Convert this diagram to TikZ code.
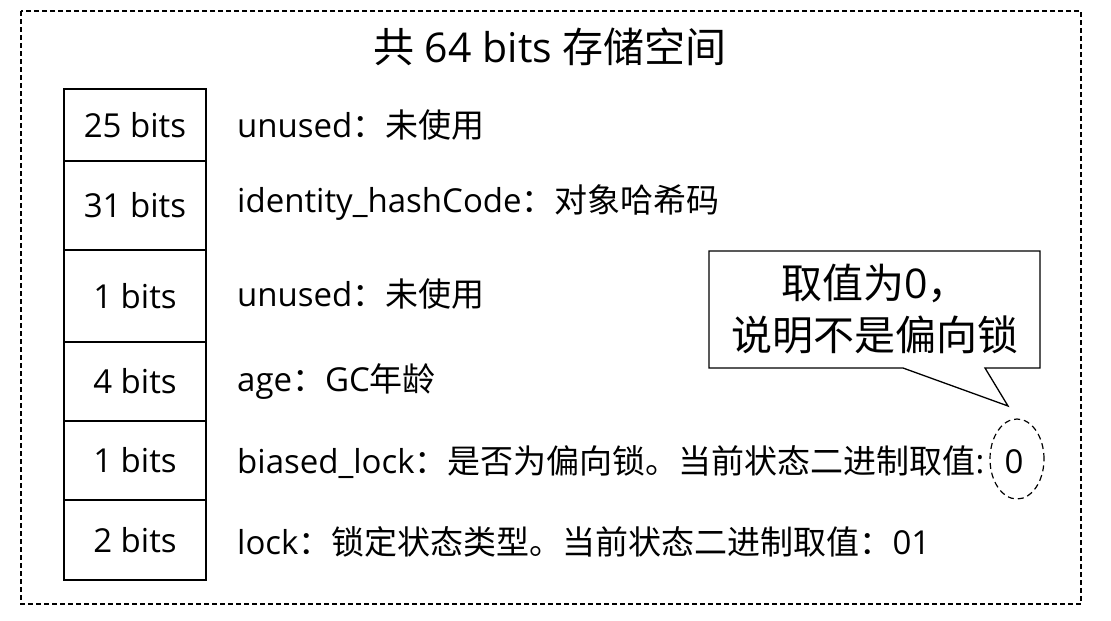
\documentclass[tikz,border=0pt]{standalone}
\usepackage{fontspec}
\setmainfont{Open Sans}
\newfontfamily\cjk{Noto Sans CJK SC}
\usetikzlibrary{shapes.geometric}
\begin{document}
\begin{tikzpicture}[x=1pt,y=-1pt,
  outer/.style={draw, line width=1.2pt, dash pattern=on 5pt off 3pt},
  cell/.style={draw, line width=1.3pt, minimum width=142pt, inner sep=0pt, font=\fontsize{33}{38}\selectfont},
  lbl/.style={anchor=west, inner sep=0pt, font=\fontsize{33}{38}\selectfont},
  ttl/.style={inner sep=0pt, font=\fontsize{41}{48}\selectfont},
  callout/.style={draw, line width=1.3pt, fill=white, line join=miter},
  calltext/.style={align=center, inner sep=0pt, font=\fontsize{41}{52}\selectfont},
  ring/.style={draw, ellipse, line width=1.2pt, dash pattern=on 6pt off 4pt, minimum width=54pt, minimum height=80pt, inner sep=0pt}
]
\useasboundingbox (0,0) rectangle (1111,621);
\draw[outer] (21,11) rectangle (1081,604);

\node[ttl] (title) at (550,47) {{\cjk 共} 64 bits {\cjk 存储空间}};

% table cells
\node[cell, minimum height=72pt] (c1) at (135,125) {25 bits};
\node[cell, minimum height=89pt] (c2) at (135,205.5) {31 bits};
\node[cell, minimum height=92pt] (c3) at (135,296) {1 bits};
\node[cell, minimum height=79pt] (c4) at (135,381.5) {4 bits};
\node[cell, minimum height=79pt] (c5) at (135,460.5) {1 bits};
\node[cell, minimum height=80pt] (c6) at (135,540) {2 bits};

% labels
\node[lbl] (l1) at (237,125) {unused{\cjk ：未使用}};
\node[lbl] (l2) at (237,203) {identity\_hashCode{\cjk ：对象哈希码}};
\node[lbl] (l3) at (237,294) {unused{\cjk ：未使用}};
\node[lbl] (l4) at (237,382) {age{\cjk ：}GC{\cjk 年龄}};
\node[lbl] (l5) at (237,462) {biased\_lock{\cjk ：是否为偏向锁。当前状态二进制取值}:};
\node[lbl] (l6) at (237,542) {lock{\cjk ：锁定状态类型。当前状态二进制取值：}01};

% value and ring
\node[lbl, anchor=center] (zero) at (1014,462) {0};
\node[ring] (ring) at (1017,459) {};

% callout
\coordinate (p1) at (709,251);
\coordinate (p2) at (1040,251);
\coordinate (p3) at (1040,368);
\coordinate (p4) at (985,368);
\coordinate (tip) at (1008,406);
\coordinate (p5) at (903,368);
\coordinate (p6) at (709,368);
\draw[callout] (p1) -- (p2) -- (p3) -- (p4) -- (tip) -- (p5) -- (p6) -- cycle;
\node[calltext] (note) at (875,309) {{\cjk 取值为}0{\cjk ，}\\{\cjk 说明不是偏向锁}};
\end{tikzpicture}
\end{document}
